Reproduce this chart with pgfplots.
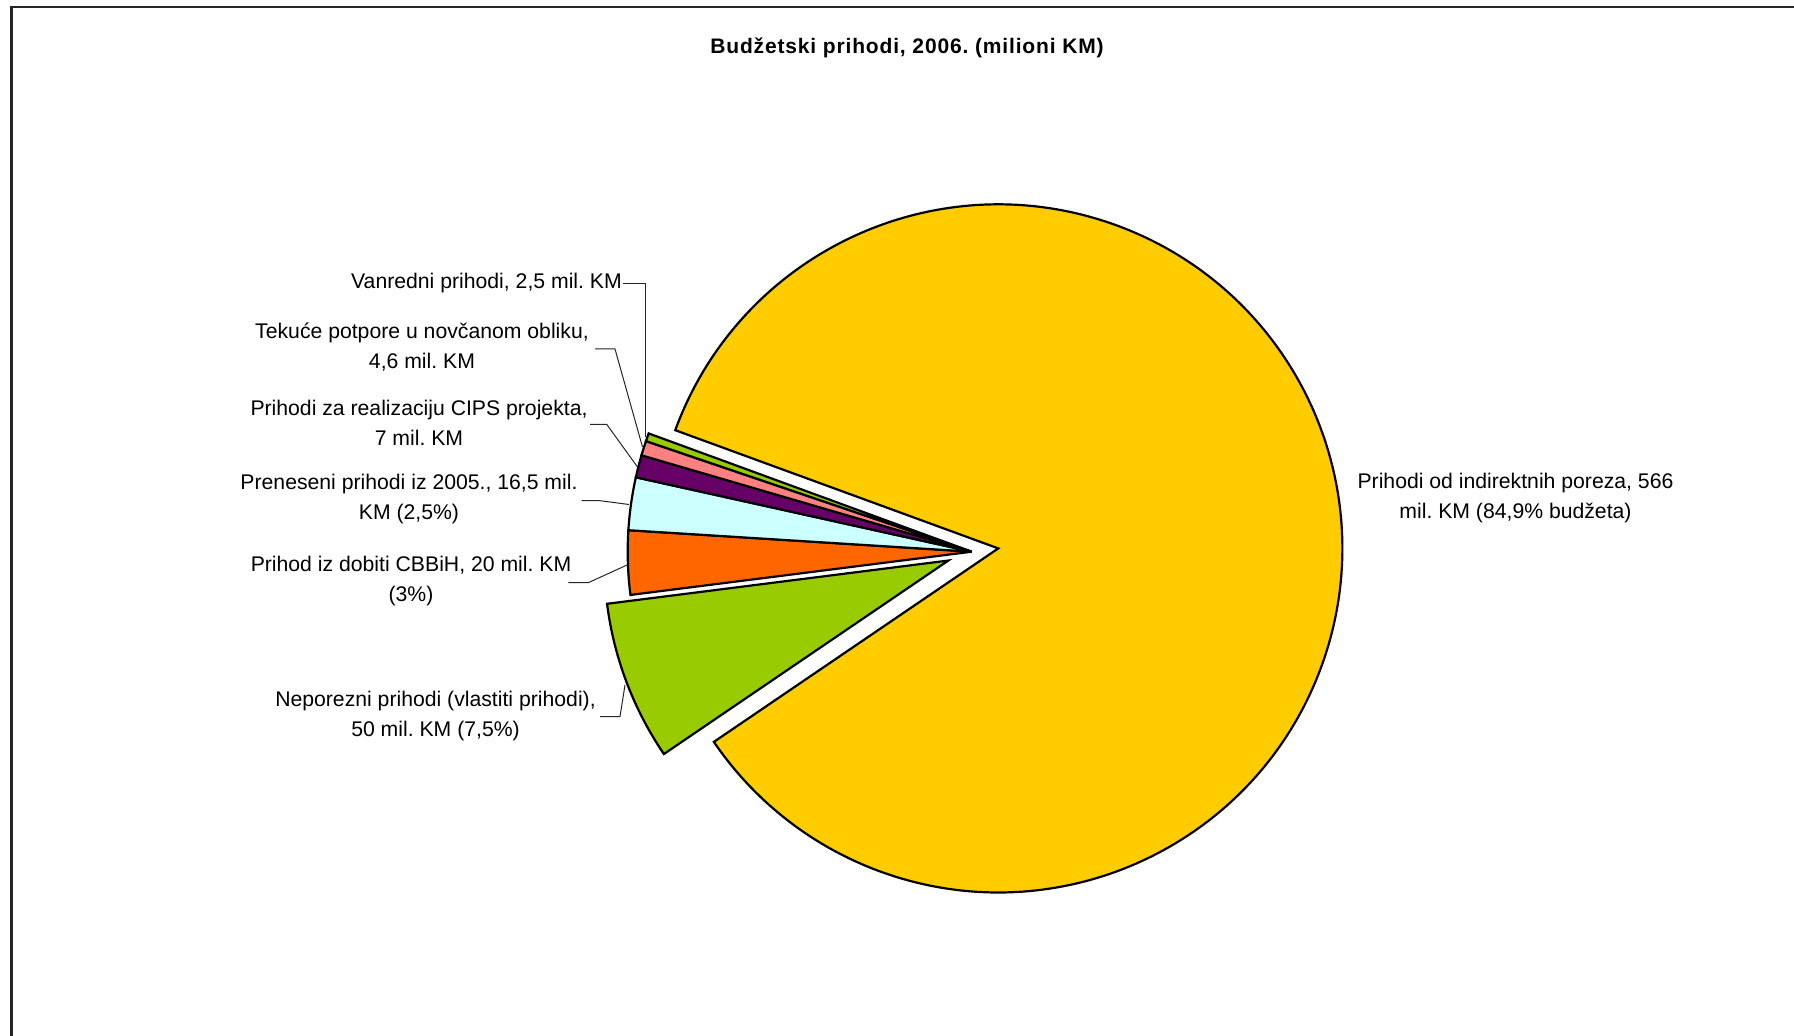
\documentclass[border=0pt]{standalone}
\usepackage{pgfplots}
\usepackage{pgfplotstable}
\pgfplotsset{compat=1.18}
\usepackage{fontspec}
\setmainfont{Liberation Sans}
\newfontfamily\titlefont[LetterSpace=4]{Liberation Sans}
\definecolor{c1}{HTML}{FFCC00}
\definecolor{c2}{HTML}{99CC00}
\definecolor{c3}{HTML}{FF6600}
\definecolor{c4}{HTML}{CCFFFF}
\definecolor{c5}{HTML}{660066}
\definecolor{c6}{HTML}{FF8080}
\definecolor{c7}{HTML}{99CC00}
% slices in clockwise order, starting at 159.9 degrees
\pgfplotstableread{
val   col ex
566   c1  26.8
50    c2  25
20    c3  0
16.5  c4  0
7     c5  0
4.6   c6  0
2.5   c7  0
}\piedata
\newcommand\lab{\fontsize{21.2bp}{30bp}\selectfont}
\begin{document}
\frenchspacing
\begin{tikzpicture}
\begin{axis}[width=1794bp, height=1036bp, scale only axis,
  xmin=0, xmax=1794, ymin=0, ymax=1036, hide axis, clip=false]
\pgfplotsextra{
  \pgfplotstablegetrowsof{\piedata}
  \pgfmathtruncatemacro\nrows{\pgfplotsretval-1}
  \xdef\tot{0}
  \foreach \i in {0,...,\nrows}{
    \pgfplotstablegetelem{\i}{val}\of\piedata
    \pgfmathsetmacro\sumtmp{\tot+\pgfplotsretval}
    \xdef\tot{\sumtmp}
  }
  \xdef\angA{159.9}
  \foreach \i in {0,...,\nrows}{
    \pgfplotstablegetelem{\i}{val}\of\piedata \let\sv\pgfplotsretval
    \pgfplotstablegetelem{\i}{col}\of\piedata \let\sc\pgfplotsretval
    \pgfplotstablegetelem{\i}{ex}\of\piedata \let\se\pgfplotsretval
    \pgfmathsetmacro\frac{\sv/\tot}
    \pgfmathsetmacro\angB{\angA-360*\frac}
    \pgfmathsetmacro\angM{(\angA+\angB)/2}
    \pgfmathsetmacro\cx{971.7+\se*cos(\angM)}
    \pgfmathsetmacro\cy{484.3+\se*sin(\angM)}
    \filldraw[fill=\sc, draw=black, line width=2.2bp, line join=miter]
      (axis cs:\cx,\cy) -- ++(\angA:344bp)
      arc[start angle=\angA, end angle=\angB, radius=344bp] -- cycle;
    \xdef\angA{\angB}
  }
}
% frame
\draw[line width=2.2bp, black!85] (axis cs:11.5,0) -- (axis cs:11.5,1029) -- (axis cs:1794,1029);
% title
\node[font=\titlefont\bfseries\fontsize{21bp}{25bp}\selectfont, inner sep=0pt] at (axis cs:907,988) {Budžetski prihodi, 2006. (milioni KM)};
% leader lines
\begin{scope}[line width=1bp, black!85]
\draw (axis cs:623,752) -- (axis cs:645,752) -- (axis cs:645,599);
\draw (axis cs:595,687) -- (axis cs:615,687) -- (axis cs:642.5,589);
\draw (axis cs:590,611.7) -- (axis cs:606.7,611.7) -- (axis cs:637.5,569);
\draw (axis cs:581.7,535.3) -- (axis cs:600,535.3) -- (axis cs:629,531.5);
\draw (axis cs:568.3,453.3) -- (axis cs:588.3,453.3) -- (axis cs:627,471);
\draw (axis cs:600,319.3) -- (axis cs:620,319.3) -- (axis cs:625,351);
\end{scope}
% labels
\begin{scope}[every node/.style={inner sep=0pt, align=center, font=\lab}]
\node[anchor=east] at (axis cs:622,753) {Vanredni prihodi, 2,5 mil. KM};
\node at (axis cs:422,689.3) {Tekuće potpore u novčanom obliku,\\4,6 mil. KM};
\node at (axis cs:419,612.7) {Prihodi za realizaciju CIPS projekta,\\7 mil. KM};
\node at (axis cs:409,536.8) {Preneseni prihodi iz 2005., 16,5 mil.\\KM (2,5\%)};
\node at (axis cs:411,455.2) {Prihod iz dobiti CBBiH, 20 mil. KM\\(3\%)};
\node at (axis cs:435.5,320.3) {Neporezni prihodi (vlastiti prihodi),\\50 mil. KM (7,5\%)};
\node at (axis cs:1515.5,537.7) {Prihodi od indirektnih poreza, 566\\mil. KM (84,9\% budžeta)};
\end{scope}
\end{axis}
\pgfresetboundingbox
\path (0,0) rectangle (1794bp,1036bp);
\end{tikzpicture}
\end{document}
